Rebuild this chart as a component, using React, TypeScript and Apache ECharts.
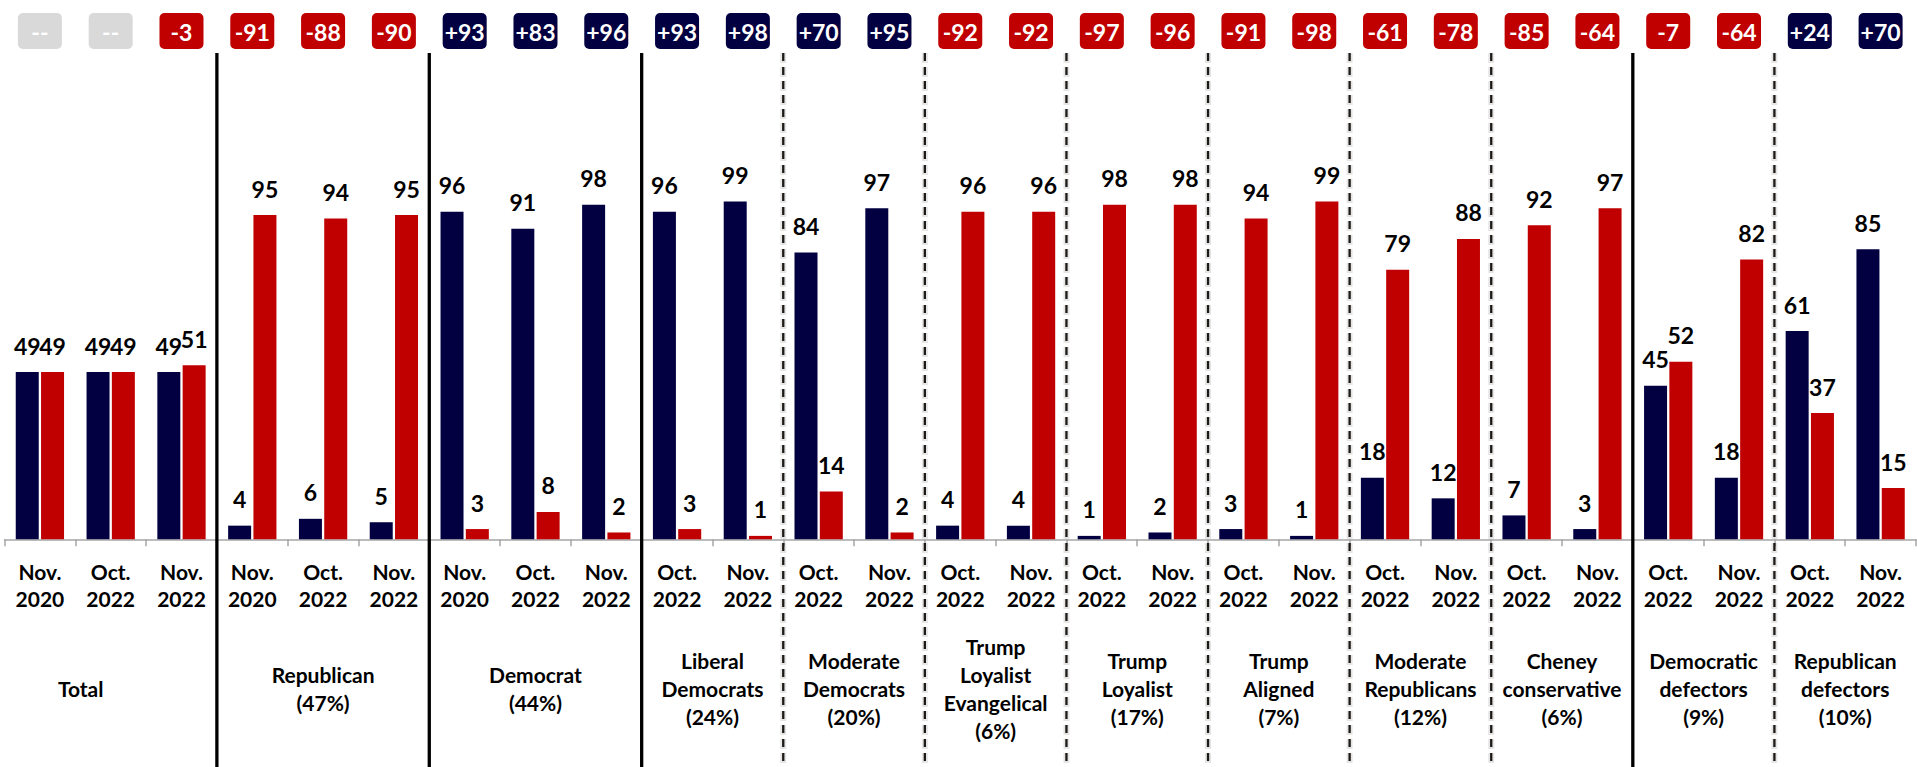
import React, { useEffect, useRef } from "react";
import * as echarts from "echarts";

// ---------- data ----------
const periods: string[] = [
  "Nov.\n2020", "Oct.\n2022", "Nov.\n2022",
  "Nov.\n2020", "Oct.\n2022", "Nov.\n2022",
  "Nov.\n2020", "Oct.\n2022", "Nov.\n2022",
  "Oct.\n2022", "Nov.\n2022",
  "Oct.\n2022", "Nov.\n2022",
  "Oct.\n2022", "Nov.\n2022",
  "Oct.\n2022", "Nov.\n2022",
  "Oct.\n2022", "Nov.\n2022",
  "Oct.\n2022", "Nov.\n2022",
  "Oct.\n2022", "Nov.\n2022",
  "Oct.\n2022", "Nov.\n2022",
  "Oct.\n2022", "Nov.\n2022",
];

const demValues: number[] = [
  49, 49, 49, 4, 6, 5, 96, 91, 98, 96, 99, 84, 97, 4, 4, 1, 2, 3, 1, 18, 12, 7, 3, 45, 18, 61, 85,
];

const repValues: number[] = [
  49, 49, 51, 95, 94, 95, 3, 8, 2, 3, 1, 14, 2, 96, 96, 98, 98, 94, 99, 79, 88, 92, 97, 52, 82, 37, 15,
];

const margins: (number | null)[] = [
  null, null, -3, -91, -88, -90, 93, 83, 96, 93, 98, 70, 95, -92, -92, -97, -96, -91, -98, -61, -78, -85, -64, -7, -64, 24, 70,
];

const groupNames: string[] = [
  "Total",
  "Republican\n(47%)",
  "Democrat\n(44%)",
  "Liberal\nDemocrats\n(24%)",
  "Moderate\nDemocrats\n(20%)",
  "Trump\nLoyalist\nEvangelical\n(6%)",
  "Trump\nLoyalist\n(17%)",
  "Trump\nAligned\n(7%)",
  "Moderate\nRepublicans\n(12%)",
  "Cheney\nconservative\n(6%)",
  "Democratic\ndefectors\n(9%)",
  "Republican\ndefectors\n(10%)",
];

const groupSizes: number[] = [3, 3, 3, 2, 2, 2, 2, 2, 2, 2, 2, 2];

// group boundaries drawn with a solid (major) line; the rest are dashed
const majorBreaks: number[] = [3, 6, 9, 23];

// ---------- derived structure ----------
const groupStarts: number[] = [];
{
  let s = 0;
  for (const n of groupSizes) {
    groupStarts.push(s);
    s += n;
  }
}
const boundaries: number[] = groupStarts.slice(1);

// ---------- styling / layout ----------
const FONT = "Lato, 'Open Sans', 'DejaVu Sans', sans-serif";
const NAVY = "#020041";
const RED = "#c00000";
const GRAY = "#d9d9d9";
const AXIS_GRAY = "#a6a6a6";
const GROUP_LABEL_NUDGE: Record<number, number> = { 0: -30 };

export default function App() {
  const ref = useRef<HTMLDivElement | null>(null);

  useEffect(() => {
    if (!ref.current) return;
    const chart = echarts.init(ref.current, undefined, { renderer: "svg" });

    const valueLabel = {
      show: true,
      position: "top" as const,
      distance: 15,
      color: "#000",
      fontFamily: FONT,
      fontWeight: "bold" as const,
      fontSize: 23,
    };

    const option: any = {
      animation: false,
      backgroundColor: "#ffffff",
      grid: [
        { left: 4.5, right: 1, top: 198, height: 341.3, containLabel: false },
        { left: 4.5, right: 1, top: 13, height: 36, containLabel: false },
      ],
      xAxis: [
        {
          type: "category",
          gridIndex: 0,
          data: periods,
          axisLine: { show: true, lineStyle: { color: AXIS_GRAY, width: 1.5 } },
          axisTick: { show: true, length: 7, interval: 0, lineStyle: { color: AXIS_GRAY, width: 1.5 } },
          axisLabel: {
            interval: 0,
            margin: 18,
            color: "#000",
            fontFamily: FONT,
            fontWeight: "bold",
            fontSize: 21,
            lineHeight: 27.5,
          },
          splitLine: { show: false },
        },
        { type: "category", gridIndex: 1, data: periods, show: false },
      ],
      yAxis: [
        { type: "value", gridIndex: 0, min: 0, max: 100, show: false, splitLine: { show: false } },
        { type: "value", gridIndex: 1, min: 0, max: 1, show: false, splitLine: { show: false } },
      ],
      series: [
        {
          type: "bar",
          name: "Democrat",
          xAxisIndex: 0,
          yAxisIndex: 0,
          data: demValues,
          barWidth: 23,
          barGap: "10%",
          itemStyle: { color: NAVY },
          label: valueLabel,
        },
        {
          type: "bar",
          name: "Republican",
          xAxisIndex: 0,
          yAxisIndex: 0,
          data: repValues,
          barWidth: 23,
          barGap: "10%",
          itemStyle: { color: RED },
          label: valueLabel,
        },
        {
          type: "custom",
          name: "margin",
          xAxisIndex: 1,
          yAxisIndex: 1,
          silent: true,
          clip: false,
          data: margins.map((_, i) => [i, 0.5]),
          renderItem: (params: any, api: any) => {
            const i = params.dataIndex;
            const [cx, cy] = api.coord([i, 0.5]);
            const m = margins[i];
            const fill = m == null ? GRAY : m < 0 ? RED : NAVY;
            const text = m == null ? "--" : m > 0 ? `+${m}` : `${m}`;
            return {
              type: "group",
              children: [
                {
                  type: "rect",
                  shape: { x: cx - 22, y: cy - 18, width: 44, height: 36, r: 5 },
                  style: { fill },
                },
                {
                  type: "text",
                  x: cx,
                  y: cy + 1,
                  style: {
                    text,
                    fill: "#ffffff",
                    fontFamily: FONT,
                    fontWeight: "bold",
                    fontSize: 23,
                    align: "center",
                    verticalAlign: "middle",
                  },
                },
              ],
            };
          },
        },
        {
          type: "custom",
          name: "dividers",
          xAxisIndex: 0,
          yAxisIndex: 0,
          silent: true,
          clip: false,
          z: 5,
          data: boundaries.map((b) => [b, 0]),
          renderItem: (params: any, api: any) => {
            const b = boundaries[params.dataIndex];
            const x = (api.coord([b - 1, 0])[0] + api.coord([b, 0])[0]) / 2;
            const top = params.coordSys.y - 145;
            const bottom = api.getHeight();
            const major = majorBreaks.includes(b);
            if (major) {
              return {
                type: "line",
                shape: { x1: x, y1: top, x2: x, y2: bottom },
                style: { stroke: "#000000", lineWidth: 3.3 },
              };
            }
            return {
              type: "group",
              children: [
                {
                  type: "line",
                  shape: { x1: x, y1: top, x2: x, y2: bottom },
                  style: { stroke: "rgba(0,0,0,0.10)", lineWidth: 6, lineDash: [10, 4] },
                },
                {
                  type: "line",
                  shape: { x1: x, y1: top, x2: x, y2: bottom },
                  style: { stroke: "#1e1a16", lineWidth: 2.3, lineDash: [8, 6] },
                },
              ],
            };
          },
        },
        {
          type: "custom",
          name: "groups",
          xAxisIndex: 0,
          yAxisIndex: 0,
          silent: true,
          clip: false,
          data: groupNames.map((_, g) => [groupStarts[g], 0]),
          renderItem: (params: any, api: any) => {
            const g = params.dataIndex;
            const start = groupStarts[g];
            const end = start + groupSizes[g] - 1;
            const x =
              (api.coord([start, 0])[0] + api.coord([end, 0])[0]) / 2 + (GROUP_LABEL_NUDGE[g] || 0);
            const y = params.coordSys.y + params.coordSys.height + 149;
            return {
              type: "text",
              x,
              y,
              style: {
                text: groupNames[g],
                fill: "#000",
                fontFamily: FONT,
                fontWeight: "bold",
                fontSize: 21,
                lineHeight: 28,
                align: "center",
                verticalAlign: "middle",
              },
            };
          },
        },
      ],
    };

    chart.setOption(option);
    return () => {
      chart.dispose();
    };
  }, []);

  return (
    <div
      ref={ref}
      style={{
        position: "absolute",
        left: 0,
        top: 0,
        width: 1917,
        height: 767,
        background: "#ffffff",
      }}
    />
  );
}
